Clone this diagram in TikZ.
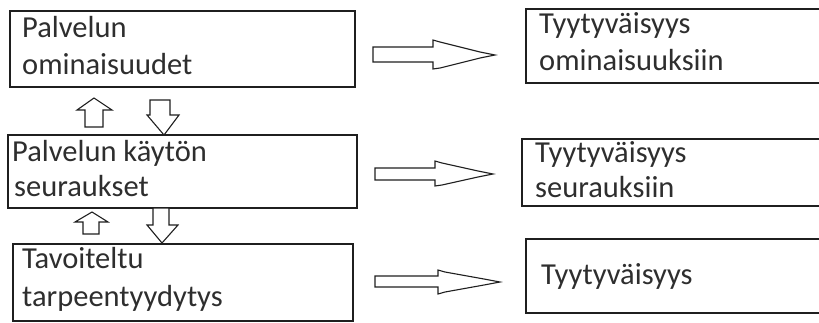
\documentclass[tikz,border=0pt]{standalone}
\usepackage{fontspec}
\setmainfont{Carlito}
\begin{document}
\begin{tikzpicture}[x=1pt,y=-1pt,
  box/.style={draw=black!88,line width=1.25pt,rectangle,inner sep=0pt},
  lbl/.style={anchor=base west,inner sep=0pt,text=black!82,font=\fontsize{30.5}{36}\selectfont},
  blockarrow/.style={draw=black!88,line width=1.1pt,fill=white,line join=miter}]
\useasboundingbox (0,0) rectangle (819,322);
\clip (0,0) rectangle (819,322);

% left column
\node[box,minimum width=345pt,minimum height=76pt] (l1) at (182.5,49) {};
\node[box,minimum width=349pt,minimum height=73pt] (l2) at (182.5,171.5) {};
\node[box,minimum width=340pt,minimum height=77pt] (l3) at (183,282.5) {};

% right column (runs past the right edge)
\node[box,minimum width=304pt,minimum height=74pt] (r1) at (678,46) {};
\node[box,minimum width=308pt,minimum height=67pt] (r2) at (676,172.5) {};
\node[box,minimum width=304pt,minimum height=74pt] (r3) at (678,276) {};

% texts
\node[lbl] (l1a) at (22,37) {Palvelun};
\node[lbl] (l1b) at (22,74) {ominaisuudet};
\node[lbl] (l2a) at (12,161) {Palvelun käytön};
\node[lbl] (l2b) at (14,196) {seuraukset};
\node[lbl] (l3a) at (22,268) {Tavoiteltu};
\node[lbl] (l3b) at (22,306) {tarpeentyydytys};
\node[lbl] (r1a) at (539,33) {Tyytyväisyys};
\node[lbl] (r1b) at (539,70) {ominaisuuksiin};
\node[lbl] (r2a) at (535,162) {Tyytyväisyys};
\node[lbl] (r2b) at (535,197) {seurauksiin};
\node[lbl] (r3a) at (541,284) {Tyytyväisyys};

% vertical block arrows between the left boxes
\draw[blockarrow] (94,98) -- (112,110) -- (103,110) -- (103,127) -- (85,127) -- (85,110) -- (77,110) -- cycle;
\draw[blockarrow] (150,100) -- (170,100) -- (170,115) -- (179,115) -- (164,135) -- (147,115) -- (150,115) -- cycle;
\draw[blockarrow] (92,212) -- (108,222) -- (99,222) -- (99,234) -- (83,234) -- (83,222) -- (75,222) -- cycle;
\draw[blockarrow] (153,208) -- (169,208) -- (169,225) -- (178,225) -- (162,243) -- (147,225) -- (153,225) -- cycle;

% horizontal block arrows towards the right boxes
\draw[blockarrow] (373,47) -- (433,47) -- (433,40) -- (440,42) -- (480,52) -- (495,55)
  -- (480,58) -- (440,68) -- (433,69) -- (433,62) -- (373,62) -- cycle;
\draw[blockarrow] (375,168) -- (435,168) -- (435,161) -- (442,163) -- (478,171) -- (493,174)
  -- (478,177) -- (442,185) -- (435,186) -- (435,180) -- (375,180) -- cycle;
\draw[blockarrow] (375,276) -- (438,276) -- (438,270) -- (445,272) -- (484,279) -- (500,282)
  -- (484,285) -- (445,292) -- (438,294) -- (438,287) -- (375,287) -- cycle;
\end{tikzpicture}
\end{document}
